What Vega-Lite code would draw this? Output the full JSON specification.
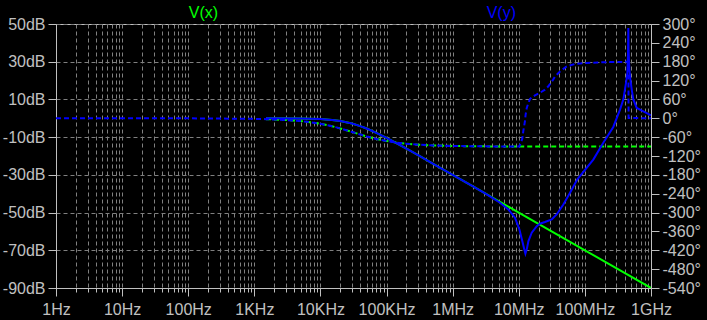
{
  "$schema": "https://vega.github.io/schema/vega-lite/v6.json",
  "width": 595,
  "height": 264,
  "autosize": {"type": "none"},
  "padding": {"left": 56, "top": 24, "right": 56, "bottom": 32},
  "background": "#000000",
  "config": {
    "view": {"stroke": "#c0c0c0", "strokeWidth": 1},
    "axis": {
      "labelFont": "Liberation Sans",
      "labelFontSize": 16,
      "labelColor": "#c0c0c0",
      "tickColor": "#c0c0c0",
      "domainColor": "#c0c0c0",
      "gridColor": "#808080",
      "gridDash": [4, 3],
      "gridWidth": 1,
      "labelFlush": false,
      "labelOverlap": false,
      "labelBound": false,
      "title": null
    }
  },
  "datasets": {
    "gmag": [
      {"f": 1500, "db": -0.01}, {"f": 5000, "db": -0.11}, {"f": 10000, "db": -0.41}, {"f": 15000, "db": -0.88},
      {"f": 20000, "db": -1.46}, {"f": 30000, "db": -2.79}, {"f": 40000, "db": -4.15}, {"f": 50000, "db": -5.44},
      {"f": 70000, "db": -7.71}, {"f": 100000, "db": -10.41}, {"f": 150000, "db": -13.71}, {"f": 200000, "db": -16.13},
      {"f": 300000, "db": -19.59}, {"f": 500000, "db": -24.0}, {"f": 1000000, "db": -30.0}, {"f": 2000000, "db": -36.02},
      {"f": 10000000, "db": -50.0}, {"f": 100000000, "db": -70.0}, {"f": 1000000000, "db": -90.0}
    ],
    "gph": [
      {"f": 1500, "deg": -2.72}, {"f": 3000, "deg": -5.42}, {"f": 5000, "deg": -8.99}, {"f": 7000, "deg": -12.48},
      {"f": 10000, "deg": -17.55}, {"f": 15000, "deg": -25.38}, {"f": 20000, "deg": -32.31}, {"f": 30000, "deg": -43.49},
      {"f": 40000, "deg": -51.68}, {"f": 50000, "deg": -57.69}, {"f": 70000, "deg": -65.69}, {"f": 100000, "deg": -72.45},
      {"f": 150000, "deg": -78.09}, {"f": 200000, "deg": -81.01}, {"f": 300000, "deg": -83.98}, {"f": 500000, "deg": -86.38},
      {"f": 1000000, "deg": -88.19}, {"f": 2000000, "deg": -89.09}, {"f": 5000000, "deg": -89.64}, {"f": 10000000, "deg": -89.82},
      {"f": 100000000, "deg": -89.98}, {"f": 1000000000, "deg": -90}
    ],
    "bmag": [
      {"f": 1500, "db": -0.01}, {"f": 5000, "db": -0.11}, {"f": 10000, "db": -0.41}, {"f": 15000, "db": -0.88},
      {"f": 20000, "db": -1.46}, {"f": 30000, "db": -2.79}, {"f": 40000, "db": -4.15}, {"f": 50000, "db": -5.44},
      {"f": 70000, "db": -7.71}, {"f": 100000, "db": -10.41}, {"f": 150000, "db": -13.71}, {"f": 200000, "db": -16.13},
      {"f": 300000, "db": -19.59}, {"f": 500000, "db": -24.0}, {"f": 1000000, "db": -30.0}, {"f": 2000000, "db": -36.02},
      {"f": 3000000, "db": -39.6}, {"f": 3670000, "db": -41.4}, {"f": 5200000, "db": -44.8}, {"f": 6950000, "db": -48.3},
      {"f": 8770000, "db": -52.7}, {"f": 10200000, "db": -58.9}, {"f": 11300000, "db": -65.1}, {"f": 12100000, "db": -69.5},
      {"f": 12600000, "db": -71.8}, {"f": 13200000, "db": -69.5}, {"f": 14000000, "db": -65.1}, {"f": 15700000, "db": -60.7},
      {"f": 18700000, "db": -57.2}, {"f": 20900000, "db": -55.9}, {"f": 24900000, "db": -55.0}, {"f": 31500000, "db": -53.6},
      {"f": 37400000, "db": -51.0}, {"f": 47200000, "db": -45.7}, {"f": 59600000, "db": -39.5}, {"f": 76900000, "db": -32.4},
      {"f": 134000000, "db": -21.9}, {"f": 190000000, "db": -13.0}, {"f": 269000000, "db": -4.6}, {"f": 340000000, "db": 4.6},
      {"f": 381000000, "db": 9.9}, {"f": 419000000, "db": 18.8}, {"f": 439000000, "db": 24.0}, {"f": 449000000, "db": 34.0},
      {"f": 454000000, "db": 47.9}, {"f": 458000000, "db": 36.0}, {"f": 470000000, "db": 26.0}, {"f": 482000000, "db": 22.0},
      {"f": 511000000, "db": 15.2}, {"f": 540000000, "db": 10.0}, {"f": 608000000, "db": 5.5}, {"f": 766000000, "db": 3.7},
      {"f": 1000000000, "db": 1.6}
    ],
    "bph": [
      {"f": 1, "deg": 0}, {"f": 10, "deg": -0.02}, {"f": 100, "deg": -0.18}, {"f": 1000, "deg": -1.81},
      {"f": 1500, "deg": -2.72}, {"f": 3000, "deg": -5.42}, {"f": 5000, "deg": -8.99}, {"f": 7000, "deg": -12.48},
      {"f": 10000, "deg": -17.55}, {"f": 15000, "deg": -25.38}, {"f": 20000, "deg": -32.31}, {"f": 30000, "deg": -43.49},
      {"f": 40000, "deg": -51.68}, {"f": 50000, "deg": -57.69}, {"f": 70000, "deg": -65.69}, {"f": 100000, "deg": -72.45},
      {"f": 150000, "deg": -78.09}, {"f": 200000, "deg": -81.01}, {"f": 300000, "deg": -83.98}, {"f": 500000, "deg": -86.38},
      {"f": 1000000, "deg": -88.19}, {"f": 2000000, "deg": -89.09}, {"f": 5000000, "deg": -89.64}, {"f": 9000000, "deg": -89.8},
      {"f": 10200000, "deg": -90}, {"f": 11300000, "deg": -65}, {"f": 11700000, "deg": -41}, {"f": 12400000, "deg": -9},
      {"f": 12700000, "deg": 12}, {"f": 13200000, "deg": 33}, {"f": 14000000, "deg": 49}, {"f": 14800000, "deg": 62},
      {"f": 17600000, "deg": 73}, {"f": 20900000, "deg": 81}, {"f": 24900000, "deg": 91}, {"f": 28000000, "deg": 102},
      {"f": 31500000, "deg": 116}, {"f": 35300000, "deg": 133}, {"f": 42000000, "deg": 149}, {"f": 53000000, "deg": 165},
      {"f": 70800000, "deg": 173}, {"f": 106000000, "deg": 176}, {"f": 200000000, "deg": 178.5}, {"f": 400000000, "deg": 179.5},
      {"f": 455000000, "deg": 180}, {"f": 458000000, "deg": 1}, {"f": 1000000000, "deg": 0}
    ]
  },
  "layer": [
    {
      "data": {"name": "gmag"},
      "mark": {"type": "line", "color": "#00ff00", "strokeWidth": 2, "clip": true},
      "encoding": {
        "x": {
          "field": "f", "type": "quantitative",
          "scale": {"type": "log", "domain": [1, 1000000000], "nice": false},
          "axis": {
            "orient": "bottom",
            "values": [1,2,3,4,5,6,7,8,9,10,20,30,40,50,60,70,80,90,100,200,300,400,500,600,700,800,900,1000,2000,3000,4000,5000,6000,7000,8000,9000,10000,20000,30000,40000,50000,60000,70000,80000,90000,100000,200000,300000,400000,500000,600000,700000,800000,900000,1000000,2000000,3000000,4000000,5000000,6000000,7000000,8000000,9000000,10000000,20000000,30000000,40000000,50000000,60000000,70000000,80000000,90000000,100000000,200000000,300000000,400000000,500000000,600000000,700000000,800000000,900000000,1000000000],
            "grid": true,
            "tickSize": 4,
            "labelPadding": 9,
            "labelExpr": "datum.value == 1 ? '1Hz' : datum.value == 10 ? '10Hz' : datum.value == 100 ? '100Hz' : datum.value == 1000 ? '1KHz' : datum.value == 10000 ? '10KHz' : datum.value == 100000 ? '100KHz' : datum.value == 1000000 ? '1MHz' : datum.value == 10000000 ? '10MHz' : datum.value == 100000000 ? '100MHz' : datum.value == 1000000000 ? '1GHz' : ''"
          }
        },
        "y": {
          "field": "db", "type": "quantitative",
          "scale": {"domain": [-90, 50], "nice": false, "zero": false},
          "axis": {
            "orient": "left",
            "values": [-90, -70, -50, -30, -10, 10, 30, 50],
            "grid": true,
            "tickSize": 8,
            "labelPadding": 3,
            "labelExpr": "datum.value + 'dB'"
          }
        }
      }
    },
    {
      "data": {"name": "gph"},
      "mark": {"type": "line", "color": "#00ff00", "strokeWidth": 2, "strokeDash": [5, 3], "clip": true},
      "encoding": {
        "x": {
          "field": "f", "type": "quantitative",
          "scale": {"type": "log", "domain": [1, 1000000000], "nice": false},
          "axis": {
            "orient": "top",
            "values": [167, 5350000],
            "grid": false,
            "domain": false,
            "ticks": false,
            "tickSize": 0,
            "labelPadding": 4,
            "labelExpr": "datum.value < 1000 ? 'V(x)' : 'V(y)'",
            "labelColor": {"condition": {"test": "datum.value < 1000", "value": "#00ff00"}, "value": "#0000ff"}
          }
        },
        "y": {
          "field": "deg", "type": "quantitative",
          "scale": {"domain": [-540, 300], "nice": false, "zero": false},
          "axis": {
            "orient": "right",
            "values": [-540, -480, -420, -360, -300, -240, -180, -120, -60, 0, 60, 120, 180, 240, 300],
            "grid": false,
            "tickSize": 8,
            "labelPadding": 3,
            "labelAlign": "left",
            "labelExpr": "(datum.value > 0 ? '\u2004' : datum.value == 0 ? '\u2007\u2004' : '') + datum.value + '°'"
          }
        }
      }
    },
    {
      "data": {"name": "bmag"},
      "mark": {"type": "line", "color": "#0000ff", "strokeWidth": 2, "clip": true},
      "encoding": {
        "x": {
          "field": "f", "type": "quantitative",
          "scale": {"type": "log", "domain": [1, 1000000000], "nice": false},
          "axis": {
            "orient": "bottom",
            "values": [1, 10, 100, 1000, 10000, 100000, 1000000, 10000000, 100000000, 1000000000],
            "grid": false,
            "domain": false,
            "labels": false,
            "tickSize": 8
          }
        },
        "y": {
          "field": "db", "type": "quantitative",
          "scale": {"domain": [-90, 50], "nice": false, "zero": false},
          "axis": null
        }
      }
    },
    {
      "data": {"name": "bph"},
      "mark": {"type": "line", "color": "#0000ff", "strokeWidth": 2, "strokeDash": [5, 3], "clip": true},
      "encoding": {
        "x": {
          "field": "f", "type": "quantitative",
          "scale": {"type": "log", "domain": [1, 1000000000], "nice": false},
          "axis": null
        },
        "y": {
          "field": "deg", "type": "quantitative",
          "scale": {"domain": [-540, 300], "nice": false, "zero": false},
          "axis": null
        }
      }
    }
  ],
  "resolve": {
    "scale": {"y": "independent"},
    "axis": {"x": "independent", "y": "independent"}
  }
}
